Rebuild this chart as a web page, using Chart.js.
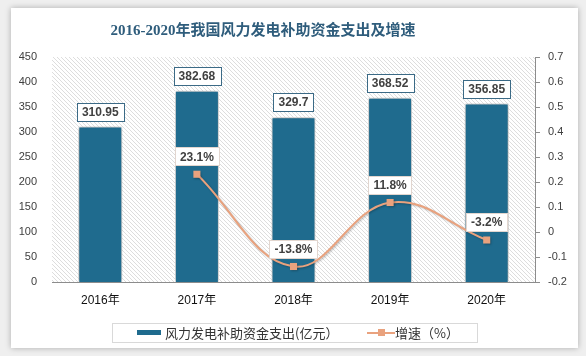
<!DOCTYPE html>
<html><head><meta charset="utf-8">
<script src="https://cdn.jsdelivr.net/npm/chart.js@4"></script>
<style>
html,body{margin:0;padding:0;background:#eeeeee;}
#wrap{position:relative;width:586px;height:356px;overflow:hidden;background:#efefef;}
#card{position:absolute;left:11px;top:8px;width:567px;height:340px;background:#fff;box-shadow:0 0 6px rgba(0,0,0,0.28);}
#c{position:absolute;left:0;top:0;}
</style></head>
<body>
<div id="wrap"><div id="card"></div><canvas id="c" width="586" height="356"></canvas></div>
<script>
const titleText = '2016-2020年我国风力发电补助资金支出及增速';
const categories = ['2016年','2017年','2018年','2019年','2020年'];
const barLabel = '风力发电补助资金支出(亿元）';
const lineLabel = '增速（%）';
const spending = [310.95, 382.68, 329.7, 368.52, 356.85];
const growth = [null, 0.231, -0.138, 0.118, -0.032];
const leftAxis = {min: 0, max: 450, step: 50};
const rightAxis = {min: -0.2, max: 0.7, step: 0.1};

const BAR = '#1f6b8e';
const LINE = '#e9a27e';
const TXT = '#404040';
const TICKFONT = {family: "'Liberation Sans', Arial, sans-serif", size: 11};

function hatch(ctx){
  const p = document.createElement('canvas');
  p.width = 4; p.height = 4;
  const g = p.getContext('2d');
  g.strokeStyle = '#dddddd'; g.lineWidth = 1;
  g.beginPath();
  g.moveTo(0,0); g.lineTo(4,4);
  g.moveTo(-1,3); g.lineTo(1,5);
  g.moveTo(3,-1); g.lineTo(5,1);
  g.stroke();
  return ctx.createPattern(p,'repeat');
}

const deco = {
  id: 'deco',
  beforeDraw(chart){
    const {ctx, chartArea:a} = chart;
    ctx.save();
    ctx.fillStyle = hatch(ctx);
    ctx.fillRect(a.left, a.top, a.right-a.left, a.bottom-a.top);
    ctx.fillStyle = '#2f5d7c';
    ctx.font = "bold 15px 'Liberation Serif', 'Noto Sans CJK SC', serif";
    ctx.textAlign = 'center'; ctx.textBaseline = 'middle';
    ctx.fillText(titleText, 263, 31);
    ctx.restore();
  },
  beforeDatasetDraw(chart, args){
    const ctx = chart.ctx;
    ctx.save();
    if (args.index === 0){
      ctx.shadowColor = 'rgba(0,0,0,0.45)';
      ctx.shadowOffsetX = 0; ctx.shadowOffsetY = 0; ctx.shadowBlur = 4;
    } else {
      ctx.shadowColor = 'rgba(0,0,0,0.25)';
      ctx.shadowOffsetX = 1; ctx.shadowOffsetY = 1; ctx.shadowBlur = 2;
    }
  },
  afterDatasetDraw(chart){ chart.ctx.restore(); },
  afterDatasetsDraw(chart){
    const ctx = chart.ctx;
    ctx.save();
    ctx.font = "bold 12px 'Liberation Sans', Arial, sans-serif";
    ctx.textAlign = 'center'; ctx.textBaseline = 'middle';
    const box = (x, bottom, text, border) => {
      const w = ctx.measureText(text).width + 10, h = 18;
      const top = bottom - h;
      ctx.fillStyle = '#fff';
      ctx.fillRect(Math.round(x - w/2)+0.5, Math.round(top)+0.5, Math.round(w), h);
      ctx.strokeStyle = border; ctx.lineWidth = 1;
      ctx.strokeRect(Math.round(x - w/2)+0.5, Math.round(top)+0.5, Math.round(w), h);
      ctx.fillStyle = TXT;
      ctx.fillText(text, x, top + h/2 + 1);
    };
    chart.getDatasetMeta(0).data.forEach((el, i) => {
      box(el.x, el.y - 6, String(spending[i]), '#3b6a86');
    });
    chart.getDatasetMeta(1).data.forEach((el, i) => {
      if (growth[i] === null) return;
      box(el.x, el.y - 9, (growth[i]*100).toFixed(1) + '%', '#e2d6cf');
    });
    ctx.strokeStyle = '#d9d9d9';
    ctx.strokeRect(112.5, 323.5, 365, 19);
    ctx.fillStyle = BAR;
    ctx.fillRect(137, 330, 24, 5);
    ctx.font = "13px 'Noto Sans CJK SC', sans-serif";
    ctx.textAlign = 'left'; ctx.fillStyle = '#333';
    ctx.fillText(barLabel, 165, 333);
    ctx.strokeStyle = LINE; ctx.lineWidth = 2;
    ctx.beginPath(); ctx.moveTo(367, 333); ctx.lineTo(395, 333); ctx.stroke();
    ctx.fillStyle = LINE; ctx.fillRect(378, 329, 7, 7);
    ctx.fillStyle = '#333';
    ctx.fillText(lineLabel, 395, 333);
    ctx.restore();
  }
};

new Chart(document.getElementById('c'), {
  data: {
    labels: categories,
    datasets: [
      {type: 'bar', label: barLabel, data: spending, backgroundColor: BAR,
       borderColor: '#ffffff', borderWidth: 1,
       yAxisID: 'y', order: 1, categoryPercentage: 1, barPercentage: 0.455},
      {type: 'line', label: lineLabel, data: growth, borderColor: LINE, borderWidth: 2,
       backgroundColor: LINE, pointStyle: 'rect', pointRadius: 5, pointBorderWidth: 0,
       tension: 0.4, yAxisID: 'y1', order: 0}
    ]
  },
  options: {
    responsive: false, animation: false,
    layout: {padding: {top: 57, bottom: 44, left: 0, right: 0}},
    plugins: {legend: {display: false}, title: {display: false}, tooltip: {enabled: false}},
    scales: {
      x: {
        grid: {display: false, drawTicks: false},
        border: {display: true, color: '#8c8c8c'},
        ticks: {color: '#111', font: {family: "'Liberation Sans', 'Noto Sans CJK SC', sans-serif", size: 12}, padding: 11},
        afterFit(s){ s.height = 30; }
      },
      y: {
        position: 'left', min: leftAxis.min, max: leftAxis.max,
        grid: {display: false, drawTicks: false}, border: {display: false},
        ticks: {stepSize: leftAxis.step, color: TXT, font: TICKFONT, padding: 15},
        afterFit(s){ s.width = 52; }
      },
      y1: {
        position: 'right', min: rightAxis.min, max: rightAxis.max,
        grid: {display: true, drawOnChartArea: false, drawTicks: true, tickLength: 5, color: '#8c8c8c'},
        border: {display: true, color: '#8c8c8c'},
        ticks: {stepSize: rightAxis.step, color: TXT, font: TICKFONT, padding: 8,
                callback: v => String(parseFloat(v.toFixed(1)))},
        afterFit(s){ s.width = 51; }
      }
    }
  },
  plugins: [deco]
});
</script>
</body></html>
